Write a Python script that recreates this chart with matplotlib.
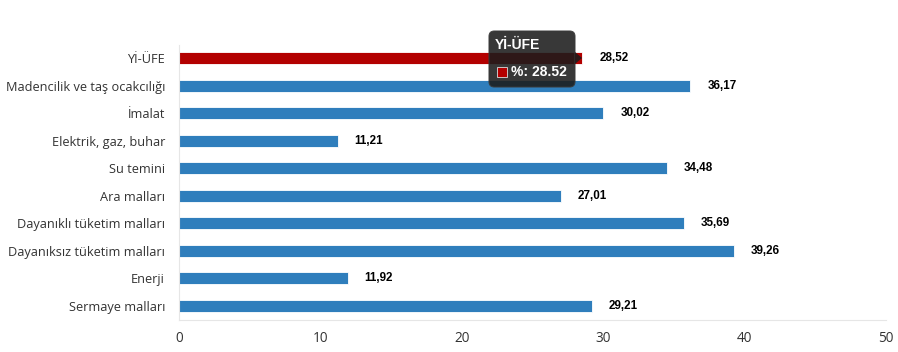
import matplotlib
matplotlib.use("Agg")
import matplotlib.pyplot as plt
from matplotlib.patches import FancyBboxPatch, Polygon, Rectangle

categories = ["Yİ-ÜFE", "Madencilik ve taş ocakcılığı", "İmalat", "Elektrik, gaz, buhar",
              "Su temini", "Ara malları", "Dayanıklı tüketim malları",
              "Dayanıksız tüketim malları", "Enerji", "Sermaye malları"]
values = [28.52, 36.17, 30.02, 11.21, 34.48, 27.01, 35.69, 39.26, 11.92, 29.21]
value_labels = ["28,52", "36,17", "30,02", "11,21", "34,48", "27,01", "35,69", "39,26", "11,92", "29,21"]
xticks = [0, 10, 20, 30, 40, 50]

W, H = 898, 352
fig = plt.figure(figsize=(W / 100, H / 100), dpi=100)
ax = fig.add_axes([179 / W, 32.5 / H, (886 - 179) / W, (319.5 - 44.5) / H])

colors = ["#b30000"] + ["#2f7ebc"] * (len(values) - 1)
y = list(range(len(values)))
ax.barh(y, values, height=0.44, color=colors, edgecolor="white", linewidth=0.6)
ax.set_ylim(len(values) - 0.5, -0.5)
ax.set_xlim(0, 50)
ax.set_xticks(xticks)
ax.set_xticklabels([str(t) for t in xticks], fontsize=9.8, color="#333333", family="Open Sans")
ax.set_yticks(y)
ax.set_yticklabels(categories, fontsize=9.2, color="#333333", family="Open Sans")
ax.tick_params(axis="y", length=0, pad=10)
ax.tick_params(axis="x", length=0, pad=8)
for s in ["top", "right"]:
    ax.spines[s].set_visible(False)
ax.spines["left"].set_color("#e6e6e6")
ax.spines["bottom"].set_color("#e6e6e6")

for yi, v, lab in zip(y, values, value_labels):
    ax.text(v + 1.2, yi, lab, va="center", ha="left", fontsize=8.4, fontweight="bold",
            color="black", family="Liberation Sans")

# tooltip
tx0, ty0, tw, th = 489, 31, 86, 56
box = FancyBboxPatch((tx0 / W, 1 - (ty0 + th) / H), tw / W, th / H,
                     boxstyle="round,pad=0,rounding_size=0.006", transform=fig.transFigure,
                     mutation_aspect=W / H,
                     facecolor="#1c1c1c", alpha=0.88, edgecolor="#3a3a3a", linewidth=0.8, zorder=10)
fig.add_artist(box)
arrow = Polygon([((tx0 + tw) / W, 1 - 52 / H), ((tx0 + tw + 7) / W, 1 - 58 / H), ((tx0 + tw) / W, 1 - 64 / H)],
                closed=True, transform=fig.transFigure, facecolor="#1c1c1c", alpha=0.88, edgecolor="none", zorder=10)
fig.add_artist(arrow)
fig.text(495 / W, 1 - 45 / H, "Yİ-ÜFE", fontsize=10, fontweight="bold", color="white",
         family="Liberation Sans", va="center", ha="left", zorder=11)
sq = Rectangle((497 / W, 1 - 77 / H), 10 / W, 10 / H, transform=fig.transFigure,
               facecolor="#b30000", edgecolor="#dddddd", linewidth=0.6, zorder=11)
fig.add_artist(sq)
fig.text(511 / W, 1 - 71.5 / H, "%: 28.52", fontsize=10, fontweight="bold", color="white",
         family="Liberation Sans", va="center", ha="left", zorder=11)

fig.savefig("out.png", dpi=100)
